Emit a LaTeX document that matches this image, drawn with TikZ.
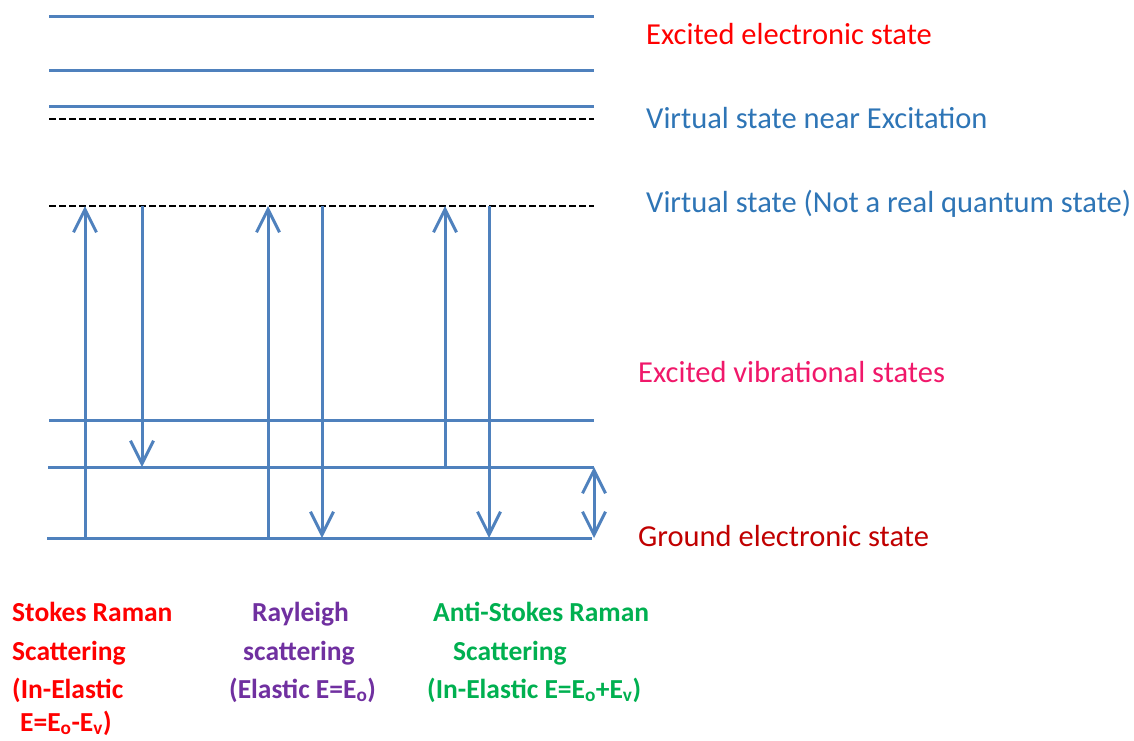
\documentclass[tikz,border=0pt]{standalone}
\usepackage{fontspec}
\setmainfont{Carlito}
\usetikzlibrary{arrows.meta}
\definecolor{lvl}{HTML}{4F81BD}
\definecolor{cred}{HTML}{FF0000}
\definecolor{cblue}{HTML}{2E75B6}
\definecolor{cpink}{HTML}{F0186A}
\definecolor{cdark}{HTML}{C00000}
\definecolor{cpurple}{HTML}{7030A0}
\definecolor{cgreen}{HTML}{00B050}
\begin{document}
\begin{tikzpicture}[x=1pt,y=-1pt,
  level/.style={draw=lvl,line width=3pt},
  vline/.style={draw=black,line width=1.3pt,dash pattern=on 7pt off 3pt},
  trans/.style={draw=lvl,line width=3pt,-{Straight Barb[length=23pt,width=23pt,line width=3pt]}},
  both/.style={draw=lvl,line width=3pt,{Straight Barb[length=23pt,width=23pt,line width=3pt]}-{Straight Barb[length=23pt,width=23pt,line width=3pt]}},
  rlab/.style={anchor=base west,inner sep=0pt,font=\fontsize{30.5}{36}\selectfont},
  blab/.style={anchor=base west,inner sep=0pt,font=\bfseries\fontsize{27.5}{33}\selectfont}]
\useasboundingbox (0,0) rectangle (1134,740);
% levels
\draw[level] (49,16) -- (594,16);
\draw[level] (49,70) -- (594,70);
\draw[level] (49,106) -- (594,106);
\draw[vline] (49,119) -- (594,119);
\draw[vline] (49,206) -- (594,206);
\draw[level] (49,420) -- (594,420);
\draw[level] (48,467) -- (594,467);
\draw[level] (47,538) -- (592,538);
% coordinates
\coordinate (su0) at (85,538);  \coordinate (su1) at (85,206);
\coordinate (sd0) at (142,206); \coordinate (sd1) at (142,467);
\coordinate (ru0) at (268,538); \coordinate (ru1) at (268,206);
\coordinate (rd0) at (322,206); \coordinate (rd1) at (322,538);
\coordinate (au0) at (445,467); \coordinate (au1) at (445,206);
\coordinate (ad0) at (489,206); \coordinate (ad1) at (489,538);
\coordinate (v0) at (594,467);  \coordinate (v1) at (594,538);
\draw[trans] (su0) -- (su1);
\draw[trans] (sd0) -- (sd1);
\draw[trans] (ru0) -- (ru1);
\draw[trans] (rd0) -- (rd1);
\draw[trans] (au0) -- (au1);
\draw[trans] (ad0) -- (ad1);
\draw[both] (v0) -- (v1);
% right labels
\node[rlab,text=cred] (l1) at (646,44) {Excited electronic state};
\node[rlab,text=cblue] (l2) at (646,128) {Virtual state near Excitation};
\node[rlab,text=cblue] (l3) at (646,212) {Virtual state (Not a real quantum state)};
\node[rlab,text=cpink] (l4) at (638,382) {Excited vibrational states};
\node[rlab,text=cdark] (l5) at (638,546) {Ground electronic state};
% bottom labels
\node[blab,text=cred] (s1) at (12,621) {Stokes Raman};
\node[blab,text=cred] (s2) at (12,660) {Scattering};
\node[blab,text=cred] (s3) at (12,698) {(In-Elastic};
\node[blab,text=cred] (s4) at (20,731) {E=E\textsubscript{o}-E\textsubscript{v})};
\node[blab,text=cpurple] (r1) at (252,621) {Rayleigh};
\node[blab,text=cpurple] (r2) at (243,660) {scattering};
\node[blab,text=cpurple] (r3) at (229,698) {(Elastic E=E\textsubscript{o})};
\node[blab,text=cgreen] (a1) at (433,621) {Anti-Stokes Raman};
\node[blab,text=cgreen] (a2) at (453,660) {Scattering};
\node[blab,text=cgreen] (a3) at (427,698) {(In-Elastic E=E\textsubscript{o}+E\textsubscript{v})};
\end{tikzpicture}
\end{document}
